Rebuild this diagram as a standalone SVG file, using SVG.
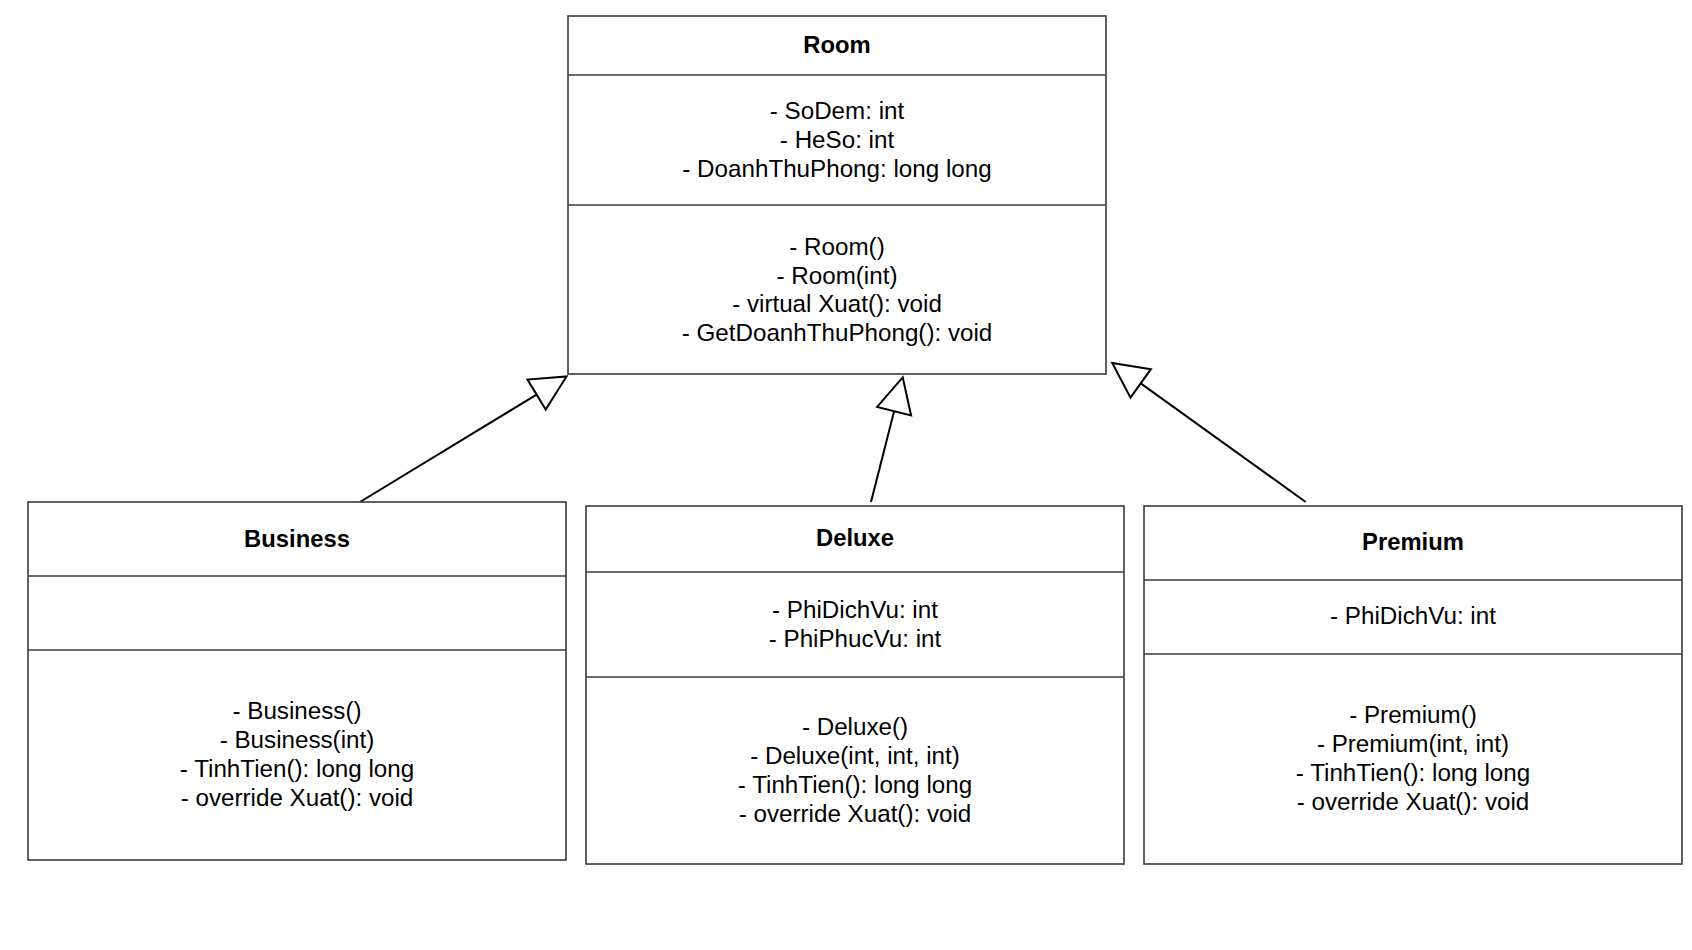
<svg xmlns="http://www.w3.org/2000/svg" width="1692" height="950" viewBox="0 0 1692 950">
<style>
.box{fill:#ffffff;stroke:#3a3a3a;stroke-width:1.6}
.div{stroke:#3a3a3a;stroke-width:1.6}
.t{font-family:"Liberation Sans",Arial,Helvetica,sans-serif;font-size:24.2px;fill:#000;text-anchor:middle}
.b{font-weight:bold;font-size:23.8px}
.edge{stroke:#000;stroke-width:2;fill:none}
.head{stroke:#000;stroke-width:2;fill:#ffffff;stroke-linejoin:miter}
</style>
<rect width="1692" height="950" fill="#ffffff"/>
<g id="connectors">
  <line class="edge" x1="360" y1="502" x2="536.6" y2="394.6"/>
  <polygon class="head" points="566.5,376.5 545.7,409.6 527.5,379.6"/>
  <line class="edge" x1="871" y1="502" x2="894.1" y2="411.2"/>
  <polygon class="head" points="902.7,377.3 911.1,415.5 877.1,406.9"/>
  <line class="edge" x1="1305.7" y1="502" x2="1140.7" y2="383.4"/>
  <polygon class="head" points="1112.3,363 1150.9,369.2 1130.5,397.6"/>
</g>
<g id="room">
  <rect class="box" x="568" y="16" width="538" height="358"/>
  <line class="div" x1="568" y1="75" x2="1106" y2="75"/>
  <line class="div" x1="568" y1="205" x2="1106" y2="205"/>
  <text class="t b" x="837" y="52.5">Room</text>
  <text class="t" x="837" y="118.5">- SoDem: int</text>
  <text class="t" x="837" y="147.5">- HeSo: int</text>
  <text class="t" x="837" y="176.5">- DoanhThuPhong: long long</text>
  <text class="t" x="837" y="254.5">- Room()</text>
  <text class="t" x="837" y="283.5">- Room(int)</text>
  <text class="t" x="837" y="312">- virtual Xuat(): void</text>
  <text class="t" x="837" y="341">- GetDoanhThuPhong(): void</text>
</g>
<g id="business">
  <rect class="box" x="28" y="502" width="538" height="358"/>
  <line class="div" x1="28" y1="576" x2="566" y2="576"/>
  <line class="div" x1="28" y1="650" x2="566" y2="650"/>
  <text class="t b" x="297" y="547">Business</text>
  <text class="t" x="297" y="718.5">- Business()</text>
  <text class="t" x="297" y="747.5">- Business(int)</text>
  <text class="t" x="297" y="776.5">- TinhTien(): long long</text>
  <text class="t" x="297" y="805.5">- override Xuat(): void</text>
</g>
<g id="deluxe">
  <rect class="box" x="586" y="506" width="538" height="358"/>
  <line class="div" x1="586" y1="572" x2="1124" y2="572"/>
  <line class="div" x1="586" y1="677" x2="1124" y2="677"/>
  <text class="t b" x="855" y="546">Deluxe</text>
  <text class="t" x="855" y="618">- PhiDichVu: int</text>
  <text class="t" x="855" y="646.5">- PhiPhucVu: int</text>
  <text class="t" x="855" y="734.5">- Deluxe()</text>
  <text class="t" x="855" y="763.5">- Deluxe(int, int, int)</text>
  <text class="t" x="855" y="792.5">- TinhTien(): long long</text>
  <text class="t" x="855" y="821.5">- override Xuat(): void</text>
</g>
<g id="premium">
  <rect class="box" x="1144" y="506" width="538" height="358"/>
  <line class="div" x1="1144" y1="580" x2="1682" y2="580"/>
  <line class="div" x1="1144" y1="654" x2="1682" y2="654"/>
  <text class="t b" x="1413" y="550">Premium</text>
  <text class="t" x="1413" y="623.5">- PhiDichVu: int</text>
  <text class="t" x="1413" y="722.5">- Premium()</text>
  <text class="t" x="1413" y="751.5">- Premium(int, int)</text>
  <text class="t" x="1413" y="780.5">- TinhTien(): long long</text>
  <text class="t" x="1413" y="810">- override Xuat(): void</text>
</g>
</svg>
